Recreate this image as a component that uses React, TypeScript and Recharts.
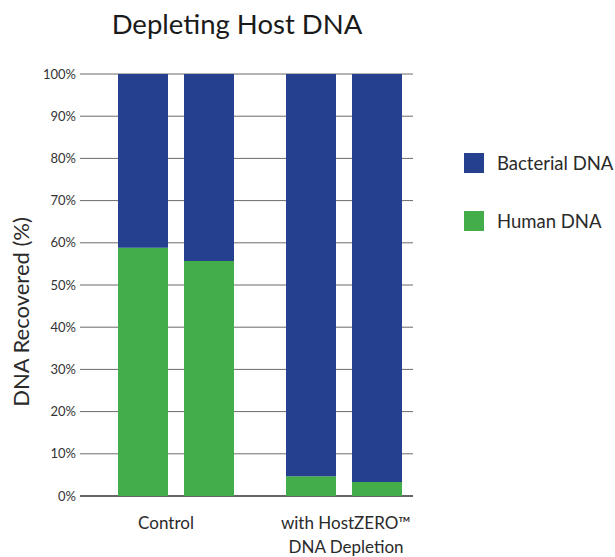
import { Bar, BarChart, CartesianGrid, XAxis, YAxis } from "recharts";

const GROUPS = ["Control", "with HostZERO™|DNA Depletion"];
const HUMAN_A = [58.8, 4.7];
const BACTERIAL_A = [41.2, 95.3];
const HUMAN_B = [55.7, 3.3];
const BACTERIAL_B = [44.3, 96.7];
const Y_TICKS = [0, 10, 20, 30, 40, 50, 60, 70, 80, 90, 100];

const BLUE = "#24408e";
const GREEN = "#43ad4a";
const FONT = "Lato, 'Open Sans', sans-serif";
const PLOT_BOTTOM = 496;

const data = GROUPS.map((g, i) => ({
  group: g,
  humanA: HUMAN_A[i],
  bacterialA: BACTERIAL_A[i],
  humanB: HUMAN_B[i],
  bacterialB: BACTERIAL_B[i],
}));

function GroupTick({ x, y, payload, index }: any) {
  const lines = String(payload.value).split("|");
  const cx = index === 0 ? x - 10 : x + 2;
  return (
    <text x={cx} y={y} textAnchor="middle" fill="#2a2a2a" fontSize={17} fontFamily={FONT}>
      {lines.map((l, i) => (
        <tspan key={i} x={cx} dy={i === 0 ? 25 : 24}>{l}</tspan>
      ))}
    </text>
  );
}

// grid lines in the original start a little left of the first bar band and stop short on the right
function GridLine(props: any) {
  const bottom = Math.abs(props.y1 - PLOT_BOTTOM) < 1;
  return (
    <line x1={props.x1 - 12} x2={props.x2 - 15} y1={props.y1} y2={props.y2}
      stroke={bottom ? "#333" : "#6b6b6b"} strokeWidth={bottom ? 1.5 : 1} />
  );
}

function LegendBox() {
  const items = [
    { label: "Bacterial DNA", color: BLUE },
    { label: "Human DNA", color: GREEN },
  ];
  return (
    <div style={{ position: "absolute", left: 464, top: 153, fontFamily: FONT, fontSize: 18.5, color: "#2a2a2a" }}>
      {items.map((it) => (
        <div key={it.label} style={{ display: "flex", alignItems: "center", height: 20, marginBottom: 38 }}>
          <span style={{ width: 20, height: 20, background: it.color, marginRight: 13, display: "inline-block" }} />
          <span style={{ whiteSpace: "nowrap" }}>{it.label}</span>
        </div>
      ))}
    </div>
  );
}

export default function App() {
  return (
    <div style={{ position: "absolute", left: 0, top: 0, width: 615, height: 557, background: "#fff", overflow: "hidden" }}>
      <div style={{ position: "absolute", left: 0, width: 474, top: 7, textAlign: "center", fontFamily: FONT, fontSize: 27.5, color: "#1a1a1a" }}>
        Depleting Host DNA
      </div>
      <BarChart width={615} height={557} data={data} barSize={50} barGap={16}
        margin={{ top: 74, right: 187, bottom: 0, left: 0 }}>
        <CartesianGrid vertical={false} horizontal={(p: any) => <GridLine key={p.key ?? p.y1} {...p} />} />
        <XAxis dataKey="group" height={61} tickLine={false} axisLine={false} interval={0} tick={<GroupTick />} />
        <YAxis width={92} domain={[0, 100]} ticks={Y_TICKS} tickFormatter={(v) => `${v}%`}
          axisLine={false} tickLine={false} tickSize={0} tickMargin={16}
          tick={{ fill: "#333", fontSize: 13, fontFamily: FONT }}
          label={() => (
            <text x={20} y={312} transform="rotate(-90 20 312)" textAnchor="middle" dominantBaseline="central"
              fill="#2a2a2a" fontSize={22} fontFamily={FONT}>DNA Recovered (%)</text>
          )} />
        <Bar dataKey="humanA" stackId="a" fill={GREEN} isAnimationActive={false} />
        <Bar dataKey="bacterialA" stackId="a" fill={BLUE} isAnimationActive={false} />
        <Bar dataKey="humanB" stackId="b" fill={GREEN} isAnimationActive={false} />
        <Bar dataKey="bacterialB" stackId="b" fill={BLUE} isAnimationActive={false} />
      </BarChart>
      <LegendBox />
    </div>
  );
}
